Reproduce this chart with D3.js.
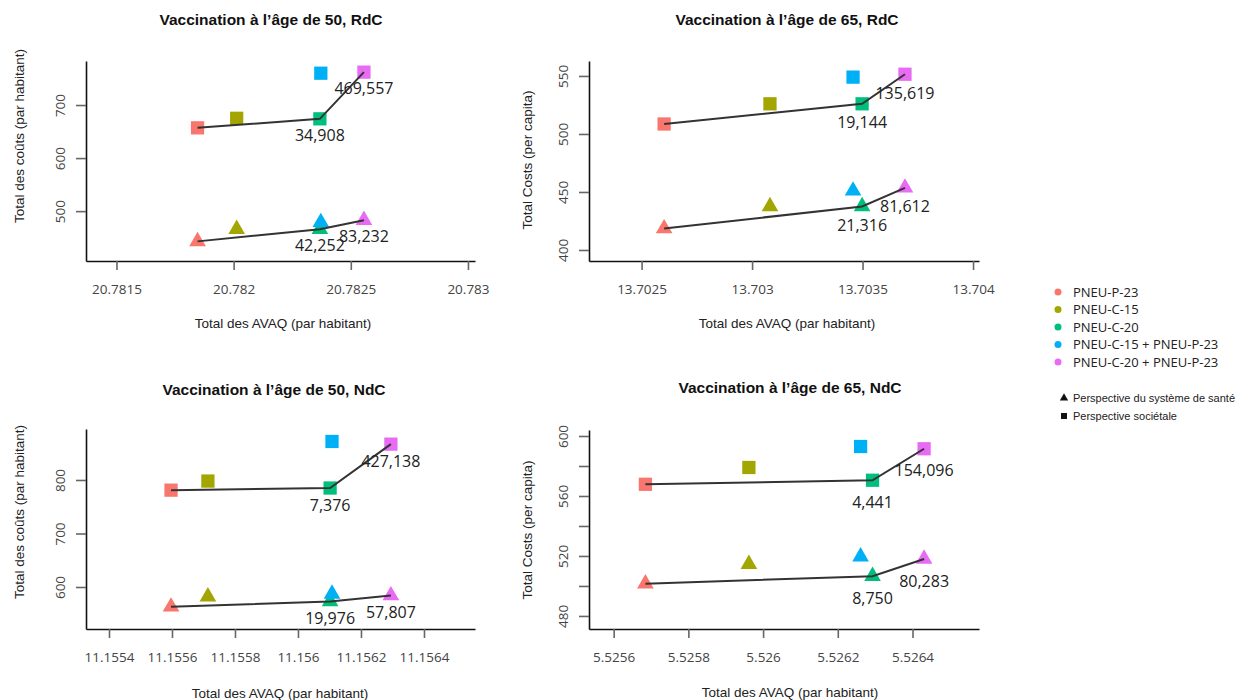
<!DOCTYPE html>
<html>
<head>
<meta charset="utf-8">
<script src="https://cdn.jsdelivr.net/npm/d3@7"></script>
<style>
  body { margin: 0; background: #fff; }
  svg { display: block; }
</style>
</head>
<body>
<div id="chart"></div>
<script>
// stratégies et couleurs
const strategies = ["PNEU-P-23", "PNEU-C-15", "PNEU-C-20", "PNEU-C-15 + PNEU-P-23", "PNEU-C-20 + PNEU-P-23"];
const strategyColors = ["#F8766D", "#A3A500", "#00BF7D", "#00B0F6", "#E76BF3"];
const frontier = [0, 2, 4]; // stratégies non dominées

// 50 ans, RdC
const qaly50RdC = [20.781846, 20.782013, 20.782368, 20.782372, 20.782556];
const costHealth50RdC = [443, 466, 466, 479, 483];
const costSoc50RdC = [657, 675, 674, 760, 762];
const icerHealth50RdC = ["42,252", "83,232"];
const icerSoc50RdC = ["34,908", "469,557"];
const xTicks50RdC = [20.7815, 20.782, 20.7825, 20.783];
const yTicks50RdC = [500, 600, 700];

// 65 ans, RdC
const qaly65RdC = [13.702602, 13.703081, 13.703498, 13.703457, 13.703692];
const costHealth65RdC = [418.5, 437.5, 437.5, 451, 453.6];
const costSoc65RdC = [508.6, 526, 526, 549, 551.5];
const icerHealth65RdC = ["21,316", "81,612"];
const icerSoc65RdC = ["19,144", "135,619"];
const xTicks65RdC = [13.7025, 13.703, 13.7035, 13.704];
const yTicks65RdC = [400, 450, 500, 550];

// 50 ans, NdC
const qaly50NdC = [11.155597, 11.155714, 11.156102, 11.156108, 11.156295];
const costHealth50NdC = [563, 582, 573, 587, 584];
const costSoc50NdC = [781, 798, 785, 872, 867];
const icerHealth50NdC = ["19,976", "57,807"];
const icerSoc50NdC = ["7,376", "427,138"];
const xTicks50NdC = [11.1554, 11.1556, 11.1558, 11.156, 11.1562, 11.1564];
const yTicks50NdC = [600, 700, 800];

// 65 ans, NdC
const qaly65NdC = [5.525685, 5.525962, 5.526293, 5.526261, 5.526431];
const costHealth65NdC = [501.5, 514.5, 506.5, 519.5, 518];
const costSoc65NdC = [567.8, 579, 570.5, 593, 591.5];
const icerHealth65NdC = ["8,750", "80,283"];
const icerSoc65NdC = ["4,441", "154,096"];
const xTicks65NdC = [5.5256, 5.5258, 5.526, 5.5262, 5.5264];
const yTicks65NdC = [480, 500, 520, 540, 560, 580, 600];
const yTickLabels65NdC = [480, 520, 560, 600];

const panels = [
    { title: "Vaccination à l’âge de 50, RdC", yLabel: "Total des coûts (par habitant)",
      qaly: qaly50RdC, health: costHealth50RdC, soc: costSoc50RdC, icerHealth: icerHealth50RdC, icerSoc: icerSoc50RdC,
      xTicks: xTicks50RdC, yTicks: yTicks50RdC, yTickLabels: yTicks50RdC,
      xDomain: [20.78137, 20.78303], yDomain: [406, 783],
      left: 86, right: 475, top: 61, bottom: 261,
      titleX: 271, titleY: 20, xTitleX: 283, xTitleY: 323, yTitleX: 19, yTitleY: 136, labelDy: 16.5 },
    { title: "Vaccination à l’âge de 65, RdC", yLabel: "Total Costs (per capita)",
      qaly: qaly65RdC, health: costHealth65RdC, soc: costSoc65RdC, icerHealth: icerHealth65RdC, icerSoc: icerSoc65RdC,
      xTicks: xTicks65RdC, yTicks: yTicks65RdC, yTickLabels: yTicks65RdC,
      xDomain: [13.702262, 13.704027], yDomain: [390.5, 562.9],
      left: 589, right: 979, top: 61, bottom: 261,
      titleX: 787, titleY: 20, xTitleX: 787, xTitleY: 323, yTitleX: 527, yTitleY: 160, labelDy: 19 },
    { title: "Vaccination à l’âge de 50, NdC", yLabel: "Total des coûts (par habitant)",
      qaly: qaly50NdC, health: costHealth50NdC, soc: costSoc50NdC, icerHealth: icerHealth50NdC, icerSoc: icerSoc50NdC,
      xTicks: xTicks50NdC, yTicks: yTicks50NdC, yTickLabels: yTicks50NdC,
      xDomain: [11.155327, 11.156562], yDomain: [521.5, 895.3],
      left: 86, right: 475, top: 429, bottom: 629,
      titleX: 274, titleY: 390, xTitleX: 280, xTitleY: 693, yTitleX: 19, yTitleY: 512, labelDy: 17 },
    { title: "Vaccination à l’âge de 65, NdC", yLabel: "Total Costs (per capita)",
      qaly: qaly65NdC, health: costHealth65NdC, soc: costSoc65NdC, icerHealth: icerHealth65NdC, icerSoc: icerSoc65NdC,
      xTicks: xTicks65NdC, yTicks: yTicks65NdC, yTickLabels: yTickLabels65NdC,
      xDomain: [5.525534, 5.526578], yDomain: [471.3, 604],
      left: 589, right: 979, top: 430, bottom: 629,
      titleX: 790, titleY: 388, xTitleX: 790, xTitleY: 692, yTitleX: 527, yTitleY: 530, labelDy: 22 }
];

const W = 1255, H = 700;
const svg = d3.select("#chart").append("svg").attr("width", W).attr("height", H);
svg.append("rect").attr("width", W).attr("height", H).attr("fill", "#fff");

const triangle = d3.symbol().type(d3.symbolTriangle).size(120);
const square = d3.symbol().type(d3.symbolSquare).size(176);
const fmtTick = v => String(+v.toFixed(5));

panels.forEach(p => {
    const x = d3.scaleLinear().domain(p.xDomain).range([p.left, p.right]);
    const y = d3.scaleLinear().domain(p.yDomain).range([p.bottom, p.top]);
    const g = svg.append("g");

    // titre
    g.append("text")
        .attr("x", p.titleX).attr("y", p.titleY).attr("dy", "0.35em")
        .attr("text-anchor", "middle")
        .attr("font-family", "Liberation Sans, Arial, sans-serif")
        .attr("font-weight", "bold").attr("font-size", "15.5px").attr("fill", "#111")
        .text(p.title);

    // axe x
    const xAxis = g.append("g")
        .attr("transform", `translate(0,${p.bottom})`)
        .call(d3.axisBottom(x).tickValues(p.xTicks).tickSize(9).tickSizeOuter(0)
            .tickPadding(14).tickFormat(fmtTick));
    // axe y
    const yAxis = g.append("g")
        .attr("transform", `translate(${p.left},0)`)
        .call(d3.axisLeft(y).tickValues(p.yTicks).tickSize(10).tickSizeOuter(0)
            .tickFormat(v => p.yTickLabels.includes(v) ? fmtTick(v) : ""));

    [xAxis, yAxis].forEach(a => {
        a.select(".domain").attr("stroke", "#111").attr("stroke-width", 1.6);
        a.selectAll(".tick line").attr("stroke", "#666").attr("stroke-width", 1.6);
        a.selectAll(".tick text")
            .attr("font-family", "Open Sans, sans-serif").attr("font-size", "13.5px").attr("fill", "#444");
    });
    yAxis.selectAll(".tick text")
        .attr("x", null).attr("dy", "0.35em")
        .attr("text-anchor", "middle")
        .attr("transform", "translate(-26,0) rotate(-90)");

    // titres des axes
    g.append("text")
        .attr("x", p.xTitleX).attr("y", p.xTitleY).attr("dy", "0.35em")
        .attr("text-anchor", "middle")
        .attr("font-family", "Liberation Sans, Arial, sans-serif").attr("font-size", "13.5px").attr("fill", "#222")
        .text("Total des AVAQ (par habitant)");
    g.append("text")
        .attr("transform", `translate(${p.yTitleX},${p.yTitleY}) rotate(-90)`)
        .attr("dy", "0.35em").attr("text-anchor", "middle")
        .attr("font-family", "Liberation Sans, Arial, sans-serif").attr("font-size", "13.5px").attr("fill", "#222")
        .text(p.yLabel);

    // points
    const series = [
        { costs: p.soc, shape: square, icer: p.icerSoc },
        { costs: p.health, shape: triangle, icer: p.icerHealth }
    ];
    series.forEach(s => {
        g.append("g").selectAll("path")
            .data(strategies.map((name, i) => ({ name, qaly: p.qaly[i], cost: s.costs[i], color: strategyColors[i] })))
            .enter().append("path")
            .attr("transform", d => `translate(${x(d.qaly)},${y(d.cost)})`)
            .attr("d", s.shape())
            .attr("fill", d => d.color);
    });

    // frontière d'efficience et RCED
    const line = d3.line().x(i => x(p.qaly[i]));
    series.forEach(s => {
        g.append("path")
            .attr("d", line.y(i => y(s.costs[i]))(frontier))
            .attr("fill", "none").attr("stroke", "#333").attr("stroke-width", 2);
    });
    series.forEach(s => {
        g.append("g").selectAll("text")
            .data(frontier.slice(1))
            .enter().append("text")
            .attr("x", i => x(p.qaly[i]))
            .attr("y", i => y(s.costs[i]) + p.labelDy)
            .attr("dy", "0.35em").attr("text-anchor", "middle")
            .attr("font-family", "Open Sans, sans-serif").attr("font-size", "16px").attr("fill", "#222")
            .text((i, k) => s.icer[k]);
    });
});

// légende
const legend = svg.append("g");
legend.selectAll("g.item")
    .data(strategies)
    .enter().append("g")
    .attr("transform", (d, i) => `translate(1058,${292 + i * 17.5})`)
    .each(function(d, i) {
        const it = d3.select(this);
        it.append("circle").attr("r", 3.5).attr("fill", strategyColors[i]);
        it.append("text").attr("x", 15).attr("dy", "0.35em")
            .attr("font-family", "Open Sans, sans-serif").attr("font-size", "13px").attr("fill", "#222")
            .text(d);
    });

const shapeLegend = [
    { label: "Perspective du système de santé", shape: d3.symbol().type(d3.symbolTriangle).size(30), y: 398 },
    { label: "Perspective sociétale", shape: d3.symbol().type(d3.symbolSquare).size(36), y: 416 }
];
shapeLegend.forEach(s => {
    legend.append("path").attr("transform", `translate(1064,${s.y})`).attr("d", s.shape()).attr("fill", "#111");
    legend.append("text").attr("x", 1073).attr("y", s.y).attr("dy", "0.35em")
        .attr("font-family", "Liberation Sans, Arial, sans-serif").attr("font-size", "11px").attr("fill", "#222")
        .text(s.label);
});
</script>
</body>
</html>
